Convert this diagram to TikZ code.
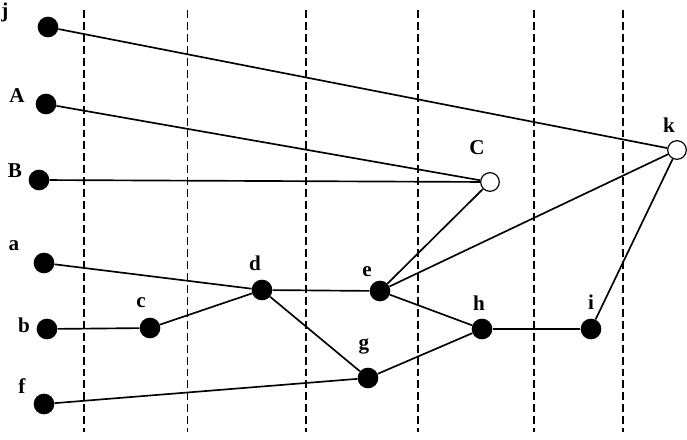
\documentclass[tikz,border=0pt]{standalone}
\usepackage{fontspec}
\setmainfont{Liberation Serif}
\tikzset{
  vtx/.style = {circle, fill = black, inner sep = 0pt, minimum size = 0.62cm},
  hollow/.style = {circle, draw = black, fill = white, line width = .35mm, inner sep = 0pt, minimum size = 0.56cm},
  lbl/.style = {font = \fontsize{18}{20}\selectfont\bfseries, inner sep = 0pt},
  edge/.style = {line width = .5mm},
  sep/.style = {line width = .5mm, dash pattern = on 6.8pt off 3.4pt}
}
\begin{document}
\begin{tikzpicture}[x = 0.03cm, y = -0.03cm]
  \useasboundingbox (0, 0) rectangle (687, 440);
      %%separators
      \foreach \xs in {84, 306, 418, 534, 623}
        \draw[sep](\xs, 10) to (\xs, 432);
      \draw[sep, line width = .3mm](187, 10) to (187, 432);
      %%left column
      \node[vtx] (j) at(48, 27){};
      \node[vtx] (A) at(46, 104){};
      \node[vtx] (B) at(39, 180){};
      \node[vtx] (a) at(44, 263){};
      \node[vtx] (b) at(47, 329){};
      \node[vtx] (f) at(44, 404){};
      %%inner nodes
      \node[vtx] (c) at(150, 328){};
      \node[vtx] (d) at(262, 290){};
      \node[vtx] (e) at(380, 291){};
      \node[vtx] (g) at(368, 378){};
      \node[vtx] (h) at(482, 329){};
      \node[vtx] (i) at(591, 329){};
      \node[hollow] (C) at(490, 182){};
      \node[hollow] (k) at(677, 150){};
      %%labels
      \node[lbl] (lj) at(5, 12){j};
      \node[lbl] (lA) at(17, 96){A};
      \node[lbl] (lB) at(15, 171){B};
      \node[lbl] (la) at(14, 246){a};
      \node[lbl] (lb) at(24, 325){b};
      \node[lbl] (lf) at(22, 386){f};
      \node[lbl] (lc) at(141, 303){c};
      \node[lbl] (ld) at(255, 263){d};
      \node[lbl] (le) at(367, 272){e};
      \node[lbl] (lg) at(364, 346){g};
      \node[lbl] (lh) at(479, 303){h};
      \node[lbl] (li) at(591, 302){i};
      \node[lbl] (lC) at(477, 148){C};
      \node[lbl] (lk) at(669, 125){k};
      %%edges
      \draw[edge](j) to (k);
      \draw[edge](A) to (C);
      \draw[edge](B) to (C);
      \draw[edge](a) to (d);
      \draw[edge](b) to (c);
      \draw[edge](c) to (d);
      \draw[edge](d) to (e);
      \draw[edge](d) to (g);
      \draw[edge](f) to (g);
      \draw[edge](e) to (C);
      \draw[edge](e) to (k);
      \draw[edge](e) to (h);
      \draw[edge](g) to (h);
      \draw[edge](h) to (i);
      \draw[edge](i) to (k);
\end{tikzpicture}
\end{document}
